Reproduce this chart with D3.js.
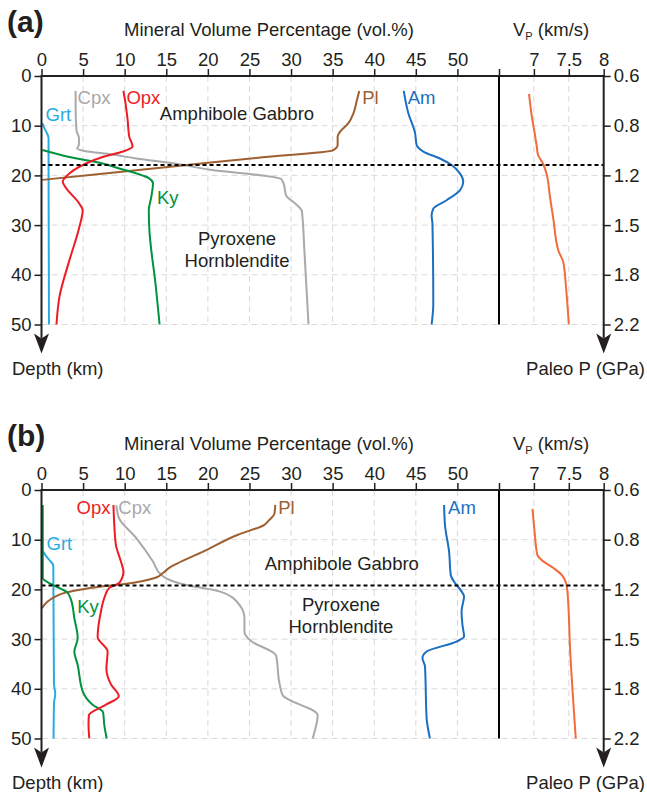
<!DOCTYPE html>
<html>
<head>
<meta charset="utf-8">
<script src="https://cdn.jsdelivr.net/npm/d3@7"></script>
<style>
  body { margin: 0; background: #fff; }
  svg, svg text { font-family: "Liberation Sans", Arial, sans-serif; }
  .tick text { font-size: 18.5px; fill: #231f20; font-family: "Liberation Sans", Arial, sans-serif; }
  .tick line { stroke: #231f20; stroke-width: 1.5; }
</style>
</head>
<body>
<div id="chart"></div>
<script>
// ---- data: [depth (km), value] ----
const mineralTicks = [0, 5, 10, 15, 20, 25, 30, 35, 40, 45, 50];
const vpTicks = [6.5, 7, 7.5, 8];
const depthTicks = [0, 10, 20, 30, 40, 50];
const pressureLabels = ["0.6", "0.8", "1.2", "1.5", "1.8", "2.2"];

// panel (a)
const grtA = [[9.5, 0.1], [10.5, 0.35], [11.5, 0.65], [12.5, 0.85], [20, 0.85], [50, 0.9]];
const cpxA = [[3, 4.1], [6, 4.1], [10.9, 4.2], [12.5, 4.5], [13.8, 4.5], [14.6, 4.3], [15.1, 5.2], [15.8, 8.5],
  [16.6, 11.4], [17.6, 16], [18.9, 20.5], [19.8, 25.5], [20.7, 28.8], [21.6, 29.1], [24, 29.4], [25.8, 30.6],
  [27.2, 31.3], [35, 31.6], [50, 32.1]];
const opxA = [[3, 9.85], [5.5, 10.1], [8.8, 10.35], [12.2, 10.55], [14.2, 10.95], [15.2, 9.8], [16.3, 7.35],
  [17.6, 5.35], [19.6, 3.35], [21.3, 2.55], [22.3, 2.85], [25.7, 4.55], [27, 4.95], [30.4, 4.55], [37.1, 3.35],
  [44.5, 2.15], [50, 1.8]];
const kyA = [[14.9, 0.1], [16.3, 3.35], [17.6, 7.35], [18.6, 9.35], [19.6, 11.4], [20.6, 12.95], [21.6, 13.4],
  [24.3, 13.2], [27, 12.9], [30.4, 12.95], [42.5, 13.75], [50, 14.2]];
const plA = [[3, 38.2], [5, 37.9], [7.5, 37.5], [9.5, 36.9], [11.2, 35.9], [12.2, 35.6], [13.9, 35.6],
  [14.9, 35.1], [16.4, 26.3], [18.3, 15.2], [19.6, 7.6], [20.9, 0.1]];
const amA = [[3, 43.55], [7.5, 44.1], [11.4, 44.9], [13.9, 45.1], [15.2, 45.9], [16.6, 47.9], [17.9, 49.3],
  [19.6, 50.3], [21.3, 50.7], [23, 50.3], [25, 48.7], [26.7, 47.1], [28.1, 46.9], [29.7, 47.0], [45.8, 47.1],
  [50, 46.9]];
const vpA = [[3.6, 6.93], [8.1, 6.97], [11.4, 7.01], [14.1, 7.04], [15.9, 7.06], [17.6, 7.13], [19.6, 7.18],
  [24.3, 7.23], [28.9, 7.28], [35.1, 7.35], [37.4, 7.42], [42.5, 7.46], [50, 7.5]];
const boundaryA = 17.9;

// panel (b)
const grtB = [[12.4, 0.2], [13.4, 0.6], [14.2, 1.0], [15.2, 1.42], [25, 1.45], [39, 1.5], [41, 1.65], [43, 1.5],
  [50, 1.45]];
const cpxB = [[3.1, 9.0], [5.6, 9.3], [9.7, 11.4], [14.4, 13.4], [17.1, 14.4], [18.1, 15.4], [19.1, 17.4],
  [20.4, 21.4], [23.1, 23.8], [25.8, 24.4], [28.6, 24.4], [30.4, 25.2], [33.3, 28.2], [38.8, 28.6], [41.3, 29.0],
  [45.3, 33.2], [48.2, 32.9], [50, 32.6]];
const opxB = [[3, 8.65], [7, 8.75], [11.1, 8.95], [14.4, 9.55], [16.4, 9.85], [18.7, 9.35], [19.7, 8.15],
  [21.7, 7.55], [24.4, 7.15], [29.6, 6.75], [32.5, 7.95], [36, 7.8], [39.1, 8.35], [41.5, 9.3], [43.2, 7.75],
  [45.3, 5.7], [47.2, 5.65], [50, 5.75]];
const kyB = [[3, 0.15], [10, 0.15], [17.7, 0.15], [19.1, 1.35], [20.6, 3.1], [22.1, 3.55], [25.8, 3.95],
  [29.8, 4.35], [32.5, 3.95], [35.2, 4.35], [40.5, 4.95], [43.2, 6.15], [44.7, 7.4], [47.3, 7.55], [50, 7.84]];
const plB = [[3, 28.1], [4.8, 28.0], [6, 27.4], [7, 26.8], [9, 23.6], [12.5, 19.3], [14.8, 16.3], [15.6, 15.4],
  [16.7, 14.6], [17.6, 13.8], [18.3, 12.2], [18.9, 10.0], [19.4, 7.2], [20, 4.8], [20.6, 3.0], [21.5, 1.6],
  [22.5, 0.7], [23.8, 0.05]];
const amB = [[3, 48.4], [7, 48.5], [12.4, 49.0], [17.1, 49.2], [18.7, 49.7], [20.4, 50.5], [21.4, 50.8],
  [24.4, 50.5], [27.1, 50.6], [29.5, 50.8], [30.5, 49.9], [32.5, 46.3], [33.8, 45.8], [35.5, 46.1], [45.9, 46.3],
  [50, 46.7]];
const vpB = [[3.8, 6.98], [8.4, 7.01], [13.1, 7.05], [14.1, 7.11], [15.7, 7.28], [17.1, 7.4], [18.7, 7.46],
  [20.4, 7.48], [32.5, 7.52], [50, 7.6]];
const boundaryB = 19.2;

const colors = {
  Grt: "#29abe2", Cpx: "#a7a9ac", Opx: "#ed1c24", Ky: "#00923f",
  Pl: "#9e5f31", Am: "#1c6fc0", Vp: "#f26b3d"
};

const svg = d3.select("#chart").append("svg")
  .attr("width", 647).attr("height", 792);

const x = d3.scaleLinear().domain([0, 55]).range([41.5, 499]);
const xv = d3.scaleLinear().domain([6.5, 8]).range([499, 603.7]);
const FS = 18.5;

function drawPanel(cfg) {
  const g = svg.append("g");
  const y = d3.scaleLinear().domain([0, 50]).range([cfg.top, cfg.top + 248.5]);
  const yBot = y(50);

  // grid
  const grid = g.append("g").attr("stroke", "#d9d9d9").attr("stroke-width", 1).attr("stroke-dasharray", "6,4");
  grid.selectAll(".gx").data(mineralTicks.slice(1)).enter().append("line")
    .attr("x1", d => x(d)).attr("x2", d => x(d)).attr("y1", y(0)).attr("y2", yBot);
  grid.selectAll(".gv").data([7, 7.5]).enter().append("line")
    .attr("x1", d => xv(d)).attr("x2", d => xv(d)).attr("y1", y(0)).attr("y2", yBot);
  grid.selectAll(".gy").data(depthTicks.slice(1)).enter().append("line")
    .attr("x1", x(0)).attr("x2", xv(8)).attr("y1", d => y(d)).attr("y2", d => y(d));

  // lines
  const line = d3.line().x(d => x(d[1])).y(d => y(d[0])).curve(d3.curveMonotoneY);
  const lineV = d3.line().x(d => xv(d[1])).y(d => y(d[0])).curve(d3.curveMonotoneY);
  cfg.series.forEach(s => {
    g.append("path").datum(s.data).attr("d", line)
      .attr("fill", "none").attr("stroke", colors[s.name]).attr("stroke-width", 2);
  });
  g.append("path").datum(cfg.vp).attr("d", lineV)
    .attr("fill", "none").attr("stroke", colors.Vp).attr("stroke-width", 2);

  // boundary
  g.append("line").attr("x1", x(0)).attr("x2", xv(8))
    .attr("y1", y(cfg.boundary)).attr("y2", y(cfg.boundary))
    .attr("stroke", "#000").attr("stroke-width", 2).attr("stroke-dasharray", "4,3");

  // divider
  g.append("line").attr("x1", x(55)).attr("x2", x(55)).attr("y1", y(0)).attr("y2", yBot)
    .attr("stroke", "#000").attr("stroke-width", 2);

  // top axes
  g.append("g").attr("transform", `translate(0,${y(0)})`)
    .call(d3.axisTop(x).tickValues(mineralTicks).tickSize(7).tickSizeOuter(0).tickPadding(3))
    .call(a => a.select(".domain").remove());
  g.append("g").attr("transform", `translate(0,${y(0)})`)
    .call(d3.axisTop(xv).tickValues(vpTicks).tickSize(7).tickSizeOuter(0).tickPadding(3)
      .tickFormat(d => d === 6.5 ? "" : d3.format("~g")(d)))
    .call(a => a.select(".domain").remove());
  g.append("line").attr("x1", x(0) - 1).attr("x2", xv(8) + 1).attr("y1", y(0)).attr("y2", y(0))
    .attr("stroke", "#231f20").attr("stroke-width", 2);

  // left and right axes
  g.append("g").attr("transform", `translate(${x(0)},0)`)
    .call(d3.axisLeft(y).tickValues(depthTicks).tickSize(7).tickSizeOuter(0).tickPadding(3))
    .call(a => a.select(".domain").remove());
  g.append("g").attr("transform", `translate(${xv(8)},0)`)
    .call(d3.axisRight(y).tickValues(depthTicks).tickSize(7).tickSizeOuter(0).tickPadding(3)
      .tickFormat((d, i) => pressureLabels[i]))
    .call(a => a.select(".domain").remove());

  [x(0), xv(8)].forEach(ax => {
    g.append("line").attr("x1", ax).attr("x2", ax).attr("y1", y(0)).attr("y2", yBot + 14)
      .attr("stroke", "#231f20").attr("stroke-width", 2);
    const tip = yBot + 29;
    g.append("path")
      .attr("d", `M${ax},${tip}L${ax - 7.5},${tip - 20}L${ax},${tip - 15}L${ax + 7.5},${tip - 20}Z`)
      .attr("fill", "#231f20");
  });

  // titles
  const txt = (tx, ty, s, opts = {}) => g.append("text").attr("x", tx).attr("y", ty)
    .attr("font-size", opts.size || FS).attr("fill", opts.fill || "#231f20")
    .attr("text-anchor", opts.anchor || "start").attr("font-weight", opts.weight || "normal").text(s);

  txt(7, cfg.top - 44, cfg.letter, { size: 30, weight: "bold" });
  txt(269, cfg.top - 40, "Mineral Volume Percentage (vol.%)", { anchor: "middle" });
  const vt = g.append("text").attr("x", 513).attr("y", cfg.top - 40).attr("font-size", FS).attr("fill", "#231f20");
  vt.append("tspan").text("V");
  vt.append("tspan").attr("font-size", 11).attr("dy", 4).text("P");
  vt.append("tspan").attr("dy", -4).text(" (km/s)");
  txt(12, yBot + 50, "Depth (km)");
  txt(645, yBot + 50, "Paleo P (GPa)", { anchor: "end" });

  // rock labels
  cfg.rocks.forEach(r => txt(x(r[1]), y(r[0]) + 6.5, r[2], { anchor: "middle" }));

  // mineral labels
  cfg.labels.forEach(l => txt(x(l.v) + (l.dx || 0), y(l.d) + 6.5, l.name,
    { fill: colors[l.name], anchor: l.anchor || "start" }));
}

drawPanel({
  top: 76, letter: "(a)", boundary: boundaryA,
  series: [{ name: "Grt", data: grtA }, { name: "Cpx", data: cpxA }, { name: "Pl", data: plA },
    { name: "Ky", data: kyA }, { name: "Opx", data: opxA }, { name: "Am", data: amA }],
  vp: vpA,
  rocks: [[7.5, 23.5, "Amphibole Gabbro"], [32.7, 23.5, "Pyroxene"], [37.2, 23.5, "Hornblendite"]],
  labels: [
    { name: "Grt", d: 7.8, v: 0, dx: 4 }, { name: "Cpx", d: 4.3, v: 4.1, dx: 2 },
    { name: "Opx", d: 4.3, v: 9.85, dx: 3 }, { name: "Pl", d: 4.3, v: 38.2, dx: 3 },
    { name: "Am", d: 4.3, v: 43.55, dx: 4 }, { name: "Ky", d: 24.5, v: 13.4, dx: 4 }
  ]
});

drawPanel({
  top: 490, letter: "(b)", boundary: boundaryB,
  series: [{ name: "Grt", data: grtB }, { name: "Cpx", data: cpxB }, { name: "Pl", data: plB },
    { name: "Ky", data: kyB }, { name: "Opx", data: opxB }, { name: "Am", data: amB }],
  vp: vpB,
  rocks: [[14.7, 36.1, "Amphibole Gabbro"], [23.1, 36, "Pyroxene"], [27.5, 36, "Hornblendite"]],
  labels: [
    { name: "Grt", d: 10.8, v: 0, dx: 5 }, { name: "Opx", d: 3.6, v: 8.65, dx: -3, anchor: "end" },
    { name: "Cpx", d: 3.6, v: 9.0, dx: 2 }, { name: "Pl", d: 3.6, v: 28.1, dx: 3 },
    { name: "Am", d: 3.6, v: 48.4, dx: 4 }, { name: "Ky", d: 23.5, v: 4.3, dx: 0 }
  ]
});
</script>
</body>
</html>
